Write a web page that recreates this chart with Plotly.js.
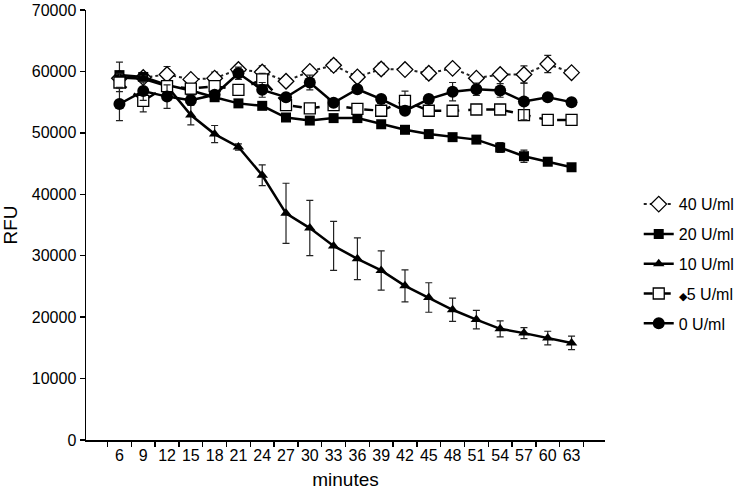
<!DOCTYPE html>
<html>
<head>
<meta charset="utf-8">
<script src="https://cdn.plot.ly/plotly-3.0.1.min.js"></script>
<style>
  body { margin: 0; background: white; }
  #chart { width: 750px; height: 496px; }
</style>
</head>
<body>
<div id="chart"></div>
<script>
// time points (minutes)
var minutes = ['6', '9', '12', '15', '18', '21', '24', '27', '30', '33', '36', '39', '42', '45', '48', '51', '54', '57', '60', '63'];

// RFU means per enzyme dose
var u40 = [58900, 59000, 59500, 58700, 58900, 60300, 59900, 58400, 60000, 61000, 59100, 60400, 60300, 59700, 60500, 58900, 59500, 59500, 61200, 59800];
var u20 = [59400, 59100, 57800, 56900, 55800, 54800, 54400, 52500, 52000, 52400, 52400, 51400, 50500, 49800, 49300, 48900, 47600, 46200, 45300, 44400];
var u10 = [59000, 58800, 57600, 52900, 49800, 47700, 43100, 36900, 34500, 31600, 29500, 27600, 25100, 23200, 21200, 19600, 18100, 17400, 16600, 15800];
var u5 = [58200, 55200, 57600, 57200, 57600, 57000, 58700, 54500, 54000, 54500, 53900, 53600, 55200, 53600, 53600, 53800, 53800, 52900, 52100, 52100];
var u0 = [54700, 56800, 55900, 55300, 56200, 59700, 57000, 55800, 58200, 54900, 57100, 55500, 53600, 55500, 56700, 57100, 56900, 55100, 55800, 55000];

// error bars (+/-)
var e40 = [500, 500, 1300, 600, 1000, 800, 1000, 500, 700, 900, 800, 900, 500, 900, 500, 500, 500, 1400, 1400, 500];
var e20 = [2100, 500, 600, 600, 600, 500, 600, 500, 500, 500, 700, 600, 400, 500, 500, 500, 800, 1000, 500, 500];
var e10 = [500, 500, 800, 1600, 1400, 500, 1700, 4900, 4500, 4000, 3400, 3200, 2600, 2400, 1900, 1500, 1300, 900, 1100, 1100];
var e5 = [1500, 1800, 700, 500, 500, 500, 1000, 600, 500, 600, 500, 600, 1600, 800, 500, 500, 800, 600, 400, 400];
var e0 = [2700, 1500, 1900, 800, 500, 1000, 1200, 600, 1200, 500, 600, 600, 500, 600, 1500, 1000, 1100, 3000, 500, 500];

var names = ['40 U/ml', '20 U/ml', '10 U/ml', '<span style="font-size:11px">◆</span>5 U/ml', '0 U/ml'];

function errs(arr) {
  return {
    type: 'data',
    array: arr,
    visible: true,
    color: '#222',
    thickness: 1.2,
    width: 3.5
  };
}

var trace40 = {
  x: minutes, y: u40, name: names[0], legendgroup: 'a',
  type: 'scatter', mode: 'lines+markers',
  line: { color: '#222', width: 2, dash: 'dot' },
  marker: { symbol: 'diamond', size: 12, color: 'white', line: { color: 'black', width: 1.3 } },
  error_y: errs(e40)
};
var trace20 = {
  x: minutes, y: u20, name: names[1], legendgroup: 'b',
  type: 'scatter', mode: 'lines+markers',
  line: { color: 'black', width: 2.5 },
  marker: { symbol: 'square', size: 10, color: 'black' },
  error_y: errs(e20)
};
var trace10 = {
  x: minutes, y: u10, name: names[2], legendgroup: 'c',
  type: 'scatter', mode: 'lines+markers',
  line: { color: 'black', width: 2.5 },
  marker: { symbol: 'triangle-up', size: 10, color: 'black' },
  error_y: errs(e10)
};
var trace5 = {
  x: minutes, y: u5, name: names[3], legendgroup: 'd',
  type: 'scatter', mode: 'lines+markers',
  line: { color: 'black', width: 2.5, dash: 'dash' },
  marker: { symbol: 'square', size: 11, color: 'white', line: { color: 'black', width: 1.3 } },
  error_y: errs(e5)
};
var trace0 = {
  x: minutes, y: u0, name: names[4], legendgroup: 'e',
  type: 'scatter', mode: 'lines+markers',
  line: { color: 'black', width: 2.5 },
  marker: { symbol: 'circle', size: 12, color: 'black' },
  error_y: errs(e0)
};

var data = [trace40, trace20, trace10, trace5, trace0];

var layout = {
  width: 750,
  height: 496,
  margin: { l: 86, r: 143, t: 10, b: 56 },
  plot_bgcolor: 'white',
  paper_bgcolor: 'white',
  font: { family: 'Liberation Sans, Arial, sans-serif', size: 16, color: 'black' },
  showlegend: true,
  legend: {
    x: 1.065, y: 0.41, xanchor: 'left', yanchor: 'middle',
    tracegroupgap: 6,
    font: { size: 16 }
  },
  xaxis: {
    type: 'category',
    title: { text: 'minutes', standoff: 10 },
    tickangle: 0,
    showline: true, linecolor: 'black', linewidth: 1.5,
    ticks: 'outside', tickson: 'boundaries', ticklen: 5, tickcolor: 'black', tickwidth: 1.5,
    showgrid: false, zeroline: false
  },
  yaxis: {
    title: { text: 'RFU', standoff: 10 },
    range: [0, 70000], dtick: 10000, tickformat: 'd',
    showline: true, linecolor: 'black', linewidth: 1.5,
    ticks: 'outside', ticklen: 5, tickcolor: 'black', tickwidth: 1.5,
    showgrid: false, zeroline: false
  }
};

// draw
Plotly.newPlot('chart', data, layout, { staticPlot: true });
</script>
</body>
</html>
